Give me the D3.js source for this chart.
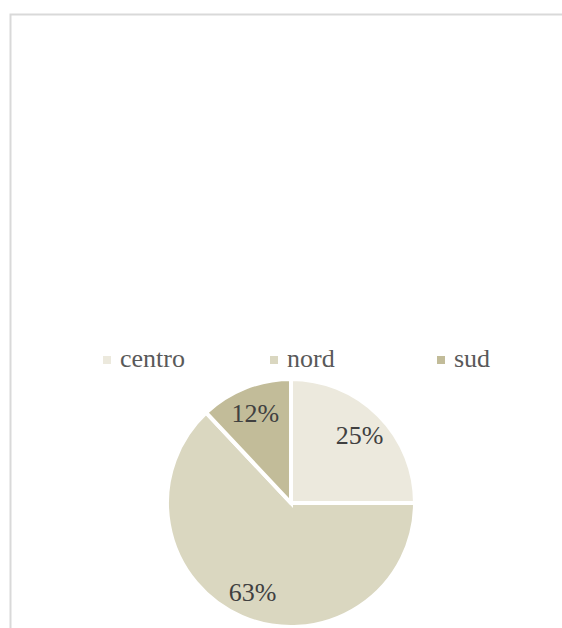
<!DOCTYPE html>
<html>
<head>
<meta charset="utf-8">
<script src="https://cdn.jsdelivr.net/npm/d3@7"></script>
<style>
  html, body { margin: 0; padding: 0; background: #fff; }
  svg { display: block; }
</style>
</head>
<body>
<div id="chart"></div>
<script>
// Share by area
const categories = ["centro", "nord", "sud"];
const values = [25, 63, 12];
const colors = ["#ECE9DD", "#DAD7C0", "#C2BC99"];

const width = 562, height = 628;
const svg = d3.select("#chart").append("svg")
  .attr("width", width).attr("height", height);

// Chart frame (runs off the right and bottom edges)
svg.append("rect")
  .attr("x", 10.5).attr("y", 14.5)
  .attr("width", 600).attr("height", 700)
  .attr("fill", "#fff")
  .attr("stroke", "#d9d9d9")
  .attr("stroke-width", 2);

const font = "'Liberation Serif', 'DejaVu Serif', serif";
const color = d3.scaleOrdinal().domain(categories).range(colors);

// Legend
const legendX = d3.scalePoint().domain(categories).range([103, 437]);
const legend = svg.append("g").attr("transform", "translate(0,367)");
const item = legend.selectAll("g").data(categories).join("g")
  .attr("transform", d => `translate(${legendX(d)},0)`);
item.append("rect")
  .attr("x", 0).attr("y", -11).attr("width", 8).attr("height", 8)
  .attr("fill", d => color(d));
item.append("text")
  .attr("x", 17).attr("y", 0)
  .attr("font-family", font).attr("font-size", 26)
  .attr("fill", "#595959")
  .text(d => d);

// Pie
const cx = 291, cy = 503, R = 124;
const pie = d3.pie().sort(null).value(d => d.value);
const data = pie(categories.map((c, i) => ({ name: c, value: values[i] })));
const arc = d3.arc().innerRadius(0).outerRadius(R);
const labelArc = d3.arc().innerRadius(97).outerRadius(97);

const g = svg.append("g").attr("transform", `translate(${cx},${cy})`);
g.selectAll("path").data(data).join("path")
  .attr("d", arc)
  .attr("fill", d => color(d.data.name))
  .attr("stroke", "#fff")
  .attr("stroke-width", 4)
  .attr("stroke-linejoin", "miter");

const total = d3.sum(values);
g.selectAll("text").data(data).join("text")
  .attr("transform", d => `translate(${labelArc.centroid(d)})`)
  .attr("text-anchor", "middle")
  .attr("dy", "0.35em")
  .attr("font-family", font).attr("font-size", 26)
  .attr("fill", "#404040")
  .text(d => Math.round(d.data.value / total * 100) + "%");
</script>
</body>
</html>
